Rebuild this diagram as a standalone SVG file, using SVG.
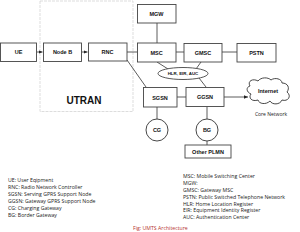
<svg xmlns="http://www.w3.org/2000/svg" width="300" height="232" viewBox="0 0 300 232">
<style>
.box{fill:#fff;stroke:#444;stroke-width:0.9}
.lbl{font-family:"Liberation Sans",Arial,sans-serif;font-weight:bold;font-size:5.5px;fill:#111;text-anchor:middle}
.ln{stroke:#333;stroke-width:0.8;fill:none}
.leg{font-family:"Open Sans","Liberation Sans",sans-serif;font-size:5.2px;fill:#222}
</style>
<defs>
<marker id="ah" markerWidth="5" markerHeight="5" refX="4" refY="2.5" orient="auto" markerUnits="userSpaceOnUse">
<path d="M0,0.8 L4,2.5 L0,4.2 Z" fill="#222"/>
</marker>
</defs>
<rect x="0" y="0" width="300" height="232" fill="#fff"/>
<g id="utran">
<rect x="40" y="1" width="93" height="110.5" fill="none" stroke="#d4d4d4" stroke-width="0.8" stroke-dasharray="3,1"/>
<text x="84" y="104" font-family="Liberation Sans,Arial,sans-serif" font-weight="bold" font-size="10" fill="#111" text-anchor="middle">UTRAN</text>
</g>
<g id="connectors">
<line class="ln" x1="36.5" y1="52" x2="42.5" y2="52" marker-end="url(#ah)"/>
<line class="ln" x1="81.5" y1="52" x2="87.5" y2="52" marker-end="url(#ah)"/>
<line class="ln" x1="127" y1="52" x2="137" y2="52"/>
<line class="ln" x1="127" y1="60" x2="146" y2="87"/>
<line class="ln" x1="157" y1="23" x2="157" y2="43"/>
<line class="ln" x1="176" y1="52" x2="184" y2="52"/>
<line class="ln" x1="222" y1="52" x2="237" y2="52"/>
<line class="ln" x1="157" y1="62" x2="168" y2="69"/>
<line class="ln" x1="201" y1="62" x2="196" y2="69"/>
<line class="ln" x1="199" y1="78" x2="206" y2="87"/>
<line class="ln" x1="177" y1="97" x2="186" y2="97"/>
<line class="ln" x1="224" y1="97" x2="248" y2="97" marker-end="url(#ah)"/>
<line class="ln" x1="157" y1="107" x2="157" y2="119"/>
<line class="ln" x1="207" y1="106.5" x2="207" y2="119"/>
<line class="ln" x1="207" y1="141" x2="207" y2="145"/>
</g>
<g id="ue"><rect class="box" x="0.5" y="43" width="36" height="18.5"/><text class="lbl" x="18.5" y="54">UE</text></g>
<g id="nodeb"><rect class="box" x="43.5" y="43" width="38" height="18.5"/><text class="lbl" x="62.5" y="54">Node B</text></g>
<g id="rnc"><rect class="box" x="88.5" y="43" width="38.5" height="18"/><text class="lbl" x="107.5" y="54">RNC</text></g>
<g id="mgw"><rect class="box" x="137.5" y="4.5" width="38.5" height="18.5"/><text class="lbl" x="156.5" y="16">MGW</text></g>
<g id="msc"><rect class="box" x="137.5" y="43" width="38.5" height="19"/><text class="lbl" x="156.5" y="54.5">MSC</text></g>
<g id="gmsc"><rect class="box" x="184" y="43.5" width="38" height="18.5"/><text class="lbl" x="203" y="55">GMSC</text></g>
<g id="pstn"><rect class="box" x="237" y="43.5" width="39" height="18.5"/><text class="lbl" x="256.5" y="55">PSTN</text></g>
<g id="hlr"><ellipse cx="183" cy="73.5" rx="25" ry="6" fill="#fff" stroke="#444" stroke-width="0.9"/><text class="lbl" x="183" y="75.3" style="font-size:4.4px">HLR, EIR, AUC</text></g>
<g id="sgsn"><rect class="box" x="143.5" y="87.5" width="33.5" height="19.5"/><text class="lbl" x="160" y="99.5">SGSN</text></g>
<g id="ggsn"><rect class="box" x="186" y="87.5" width="38" height="19"/><text class="lbl" x="205" y="99">GGSN</text></g>
<g id="internet">
<path d="M250,86 C247,81 253,78 258,81 C261,77 268,77 271,80 C275,77 282,79 282,83 C288,83 290,88 287,92 C292,96 288,102 282,100 C280,105 272,105 270,101 C266,105 259,104 258,100 C252,102 248,98 251,94 C246,92 246,87 250,86 Z" fill="#fff" stroke="#333" stroke-width="0.9"/>
<text class="lbl" x="268" y="93">Internet</text>
<text class="leg" x="271" y="115.5" text-anchor="middle" style="font-size:5px">Core Network</text>
</g>
<g id="cg"><circle cx="157" cy="130" r="11" fill="#fff" stroke="#333" stroke-width="0.9"/><text class="lbl" x="157" y="132">CG</text></g>
<g id="bg"><circle cx="207" cy="130" r="11" fill="#fff" stroke="#333" stroke-width="0.9"/><text class="lbl" x="207" y="132">BG</text></g>
<g id="otherplmn"><rect class="box" x="185" y="145" width="46" height="13"/><text class="lbl" x="208" y="153.5">Other PLMN</text></g>
<g id="legend-left">
<text class="leg" x="8" y="182">UE: User Eqipment</text>
<text class="leg" x="8" y="189">RNC: Radio Network Controller</text>
<text class="leg" x="8" y="196">SGSN: Serving GPRS Support Node</text>
<text class="leg" x="8" y="203">GGSN: Gateway GPRS Support Node</text>
<text class="leg" x="8" y="210">CG: Charging Gateway</text>
<text class="leg" x="8" y="217">BG: Border Gateway</text>
</g>
<g id="legend-right">
<text class="leg" x="183" y="178">MSC: Mobile Switching Center</text>
<text class="leg" x="183" y="185">MGW:</text>
<text class="leg" x="183" y="192">GMSC: Gateway MSC</text>
<text class="leg" x="183" y="199">PSTN: Public Switched Telephone Network</text>
<text class="leg" x="183" y="205.5">HLR: Home Location Register</text>
<text class="leg" x="183" y="212">EIR: Equipment Identity Register</text>
<text class="leg" x="183" y="219">AUC: Authentication Center</text>
</g>
<text class="leg" x="133" y="230" style="fill:#b5322e">Fig: UMTS Architecture</text>
</svg>
